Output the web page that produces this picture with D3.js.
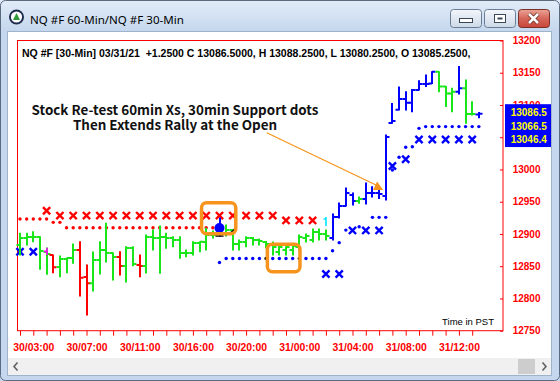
<!DOCTYPE html>
<html><head><meta charset="utf-8">
<script src="https://cdn.jsdelivr.net/npm/d3@7"></script>
<style>html,body{margin:0;padding:0;overflow:hidden;background:#fff}svg{display:block}</style>
</head><body>
<svg id="c" width="560" height="381"></svg>
<script>
// ---------- DATA ----------
const times = ["30/02:00","30/02:30","30/03:00","30/03:30","30/04:00","30/04:30","30/05:00","30/05:30","30/06:00","30/06:30","30/07:00","30/07:30","30/08:00","30/08:30","30/09:00","30/09:30","30/10:00","30/10:30","30/11:00","30/11:30","30/12:00","30/12:30","30/13:00","30/13:30","30/15:00","30/15:30","30/16:00","30/16:30","30/17:00","30/17:30","30/18:00","30/18:30","30/19:00","30/19:30","30/20:00","30/20:30","30/21:00","30/21:30","30/22:00","30/22:30","30/23:00","30/23:30","31/00:00","31/00:30","31/01:00","31/01:30","31/02:00","31/02:30","31/03:00","31/03:30","31/04:00","31/04:30","31/05:00","31/05:30","31/06:00","31/06:30","31/07:00","31/07:30","31/08:00","31/08:30","31/09:00","31/09:30","31/10:00","31/10:30","31/11:00","31/11:30","31/12:00","31/12:30","31/13:00","31/13:30"];
const xLabels = ["30/03:00","30/07:00","30/11:00","30/16:00","30/20:00","31/00:00","31/04:00","31/08:00","31/12:00"];
const yTicks = [12750,12800,12850,12900,12950,13000,13050,13100,13150,13200];

const opens  = [12883,12893.75,12895.25,12895.25,12872,12867.5,12848.75,12861.25,12862.75,12875,12833.25,12823.5,12859.5,12875,12870.5,12864.25,12850.25,12878.25,12852,12850.25,12895.25,12893.75,12895.25,12893.75,12890.5,12870.5,12870.5,12886,12887.5,12898.5,12906,12900,12906,12884.5,12887.5,12893.75,12890.5,12887.5,12884.5,12872,12875,12875,12879.75,12893.75,12890.5,12903,12900,12893.75,12926.25,12943.5,12960.5,12951,12954.25,12963.5,12963.5,12959,13072,13092.5,13109.25,13103.5,13123.25,13132.5,13133.5,13151.5,13128.5,13118,13120.5,13126,13086,13085.25];
const highs  = [12901,12901,12903.5,12895.75,12878.25,12867.5,12865.75,12862.75,12884.5,12888,12852,12872,12888,12916.5,12870.5,12872.5,12880,12880,12867.5,12898.5,12906,12912.25,12901,12895.75,12895.75,12875,12888,12888,12908.75,12904.5,12924.75,12914,12906,12890.5,12895.75,12894.5,12892.25,12888.25,12887.5,12882,12880.25,12883,12898.5,12900,12907.75,12907.75,12906,12931,12948,12971.25,12963.5,12957.25,12979,12973.25,12971.25,13053.5,13102.5,13127.9,13120.5,13124,13137.7,13146.5,13151.5,13151.5,13128.5,13126,13159.5,13138.75,13105,13088.25];
const lows   = [12867.5,12883,12888,12845.25,12837.5,12840,12833.75,12840,12854.5,12803.75,12774.25,12811.5,12838,12856.5,12828.5,12836.5,12825.5,12850.75,12833.75,12839.5,12875,12839,12877.75,12880.25,12862.25,12864.75,12867.5,12872.5,12875,12893.75,12896.75,12896.75,12875,12875,12880.25,12883,12883,12878.25,12867.5,12867.5,12867.5,12867.5,12875,12887.5,12887.5,12890.5,12890.5,12890.5,12924.75,12943.5,12945,12947.5,12946.5,12957.25,12955,12952.75,13071.5,13092.25,13092.25,13089.5,13123.25,13128.5,13133.5,13120.5,13097.5,13089.5,13117,13071.5,13084.5,13080.25];
const closes = [12893.75,12895.25,12895.25,12873.5,12869,12848.25,12861.25,12862.75,12875,12832.25,12823.5,12859.5,12875,12870.5,12864.25,12850.25,12878.25,12853.5,12850.25,12895.25,12893.75,12895.25,12893.75,12890.5,12870.5,12870.5,12886,12888,12898.5,12898.5,12909.25,12906,12884.5,12887.5,12893.75,12890.5,12889,12884.5,12879.75,12879.75,12879.75,12881.25,12895.25,12896.75,12903,12900,12896.75,12926.25,12943.5,12963.5,12951,12954.25,12963.5,12963.5,12962,13050.5,13075.25,13109.25,13103.5,13123.25,13132.5,13132.5,13151.5,13128.5,13118,13120.5,13126,13086,13086,13086.5];
// indicator colour state of each bar: g = green, r = red, b = blue
const barState = ["g","g","g","g","g","r","g","g","g","r","r","g","g","g","g","r","g","g","r","g","g","g","g","g","g","g","g","g","g","g","b","g","g","g","g","g","g","g","g","g","g","g","g","g","g","g","g","b","b","b","b","g","b","b","b","b","b","b","b","b","b","b","b","g","g","g","b","g","g","b"];

// 30-min support / resistance dots (one per bar, null = none)
const dots30 = [12923.25,12923.25,12923.25,12923.25,12923.25,12918,12918,12909.75,12909.75,12909.75,12909.75,12909.75,12909.75,12909.75,12909.75,12909.75,12909.75,12909.75,12909.75,12909.75,12909.75,12909.75,12909.75,12909.75,12909.75,12909.75,12909.75,12909.75,12909.75,12909.75,12855.75,12862,12862,12862,12862,12862,12862,12862,12862,12862,12862,12862,12862,12862,12862,12862,12862,12874,12886.5,12906,null,12911.25,null,12925.75,12925.75,12925.75,12999.25,13019,13034.5,13035.25,13063.75,13066.5,13066.5,13066.5,13066.5,13066.5,13066.5,13066.5,13066.5,13066.5];
const dots30State = ["r","r","r","r","r","r","r","r","r","r","r","r","r","r","r","r","r","r","r","r","r","r","r","r","r","r","r","r","r","r","b","b","b","b","b","b","b","k","b","b","b","b","k","b","b","b","b","b","b","b","b","b","b","b","b","b","b","b","b","b","b","b","b","b","b","b","b","b","b","b"];

// 60-min Xs
const x60Bars  = ["30/02:00","30/03:00","30/04:00","30/05:00","30/06:00","30/07:00","30/08:00","30/09:00","30/10:00","30/11:00","30/12:00","30/13:00","30/15:00","30/16:00","30/17:00","30/18:00","30/19:00","30/20:00","30/21:00","30/22:00","30/23:00","31/00:00","31/01:00","31/02:00","31/03:00","31/04:00","31/05:00","31/06:00","31/07:00","31/08:00","31/09:00","31/10:00","31/11:00","31/12:00","31/13:00"];
const x60Value = [12872.5,12872.5,12936,12928.5,12928.5,12928.5,12928.5,12928.5,12928.5,12928.5,12928.5,12928.5,12928.5,12928.5,12928.5,12928.5,12928.5,12928.5,12928.5,12928.5,12921,12921,12921,12838,12838,12905.5,12905.5,12905.5,13005.5,13015.75,13046.4,13046.4,13046.4,13046.4,13046.4];
const x60State = ["b","b","r","r","r","r","r","r","r","r","r","r","r","r","r","r","r","r","r","r","r","r","r","b","b","b","b","b","b","b","b","b","b","b","b"];

const lastValues = [13086.5, 13066.5, 13046.4];
const headerText = "NQ #F [30-Min] 03/31/21  +1.2500 C 13086.5000, H 13088.2500, L 13080.2500, O 13085.2500,";
const titleText = "NQ #F 60-Min/NQ #F 30-Min";
const noteLines = ["Stock Re-test 60min Xs, 30min Support dots", "Then Extends Rally at the Open"];
// annotation geometry in data units (fractional bar index, price)
const noteBoxes = [{i0:27.3,i1:32.45,top:12948.5,bot:12900.4},{i0:37.2,i1:42.1,top:12884,bot:12841.5}];
const noteArrow = {i0:37.1,v0:13057,i1:53.85,v1:12974.4};
const retestBar = "30/18:00", retestValue = 12909.25;
const magentaMark = {bar:"30/04:00", hi:12878.7, lo:12867.4, t:12873};
const cyanMark = {bar:"31/02:00", hi:12926.3, lo:12912.4};

// ---------- DRAW ----------
const svg = d3.select("#c");
const colors = {g:"#19e619", r:"#ff0000", b:"#0000ff", k:"#000000"};
const orange = "#f7941d";

// window chrome
const defs = svg.append("defs");
const tg = defs.append("linearGradient").attr("id","tg").attr("x1",0).attr("y1",0).attr("x2",0).attr("y2",1);
tg.append("stop").attr("offset","0").attr("stop-color","#e2ecf8");
tg.append("stop").attr("offset","1").attr("stop-color","#c3d6ed");
const bg1 = defs.append("linearGradient").attr("id","bg1").attr("x1",0).attr("y1",0).attr("x2",0).attr("y2",1);
bg1.append("stop").attr("offset","0").attr("stop-color","#f3f6fb");
bg1.append("stop").attr("offset","1").attr("stop-color","#cdd9e8");
const cg = defs.append("linearGradient").attr("id","cg").attr("x1",0).attr("y1",0).attr("x2",0).attr("y2",1);
cg.append("stop").attr("offset","0").attr("stop-color","#e9a597");
cg.append("stop").attr("offset","0.5").attr("stop-color","#d7665a");
cg.append("stop").attr("offset","1").attr("stop-color","#c8463a");

svg.append("rect").attr("x",0).attr("y",0).attr("width",560).attr("height",381).attr("fill","#c4d7ee");
svg.append("rect").attr("x",0).attr("y",0).attr("width",560).attr("height",33).attr("fill","url(#tg)");
// content area
svg.append("rect").attr("x",8).attr("y",32).attr("width",543).attr("height",343).attr("fill","#ffffff");
// title icon
const ic = svg.append("g").attr("transform","translate(16.5,17)");
ic.append("circle").attr("r",7.5).attr("fill","#1d2b4d");
ic.append("circle").attr("r",5.6).attr("fill","#ffffff");
ic.append("path").attr("d","M0,-4 L3.5,3 L-3.5,3 Z").attr("fill","#2e9a3a");
const tt = svg.append("text").attr("x",30).attr("y",24).attr("font-family","'Noto Sans', 'Open Sans', sans-serif")
  .attr("font-size",12).attr("fill","#000").text(titleText);
// title buttons
function btn(x0, fill, stroke){
  svg.append("rect").attr("x",x0+0.5).attr("y",9.5).attr("width",31).attr("height",18).attr("rx",3)
    .attr("fill",fill).attr("stroke",stroke);
}
btn(450,"url(#bg1)","#6b7d94"); btn(484,"url(#bg1)","#6b7d94"); btn(518,"url(#cg)","#7a3028");
svg.append("rect").attr("x",459.5).attr("y",18.5).attr("width",13).attr("height",4).attr("fill","#ffffff").attr("stroke","#3b4656");
svg.append("rect").attr("x",494.5).attr("y",14.5).attr("width",11).attr("height",8).attr("fill","#ffffff").attr("stroke","#3b4656");
svg.append("rect").attr("x",497.5).attr("y",17.5).attr("width",5).attr("height",2).attr("fill","#3b4656");
svg.append("path").attr("d","M529,14 L538,23 M538,14 L529,23").attr("stroke","#6b2a24").attr("stroke-width",4.2);
svg.append("path").attr("d","M529,14 L538,23 M538,14 L529,23").attr("stroke","#ffffff").attr("stroke-width",2.6);

// scales
const x = d3.scalePoint().domain(times).range([20, 478.85]);
const xAt = f => x(times[0]) + f * x.step();
const y = d3.scaleLinear().domain([12750, 13200]).range([330.7, 40.5]);

// frame
svg.append("rect").attr("x",17.5).attr("y",y(13200)).attr("width",485.5).attr("height",y(12750)-y(13200))
  .attr("fill","none").attr("stroke","#ff0000").attr("stroke-width",1);

// header
const ht = svg.append("text").attr("x",22).attr("y",57).attr("font-family","'Liberation Sans', Arial, sans-serif")
  .attr("font-weight","bold").attr("font-size",11).attr("fill","#000").style("white-space","pre").text(headerText);
function fit(t, w){ const l = t.node().getComputedTextLength(); t.attr("font-size", (+t.attr("font-size"))*w/l); }
fit(ht, 449);
fit(tt, 154);

// 30-min dots
const dotData = dots30.map((v,i)=>({t:times[i], v, s:dots30State[i]})).filter(d=>d.v!==null);
svg.append("g").selectAll("circle").data(dotData).join("circle")
  .attr("cx",d=>x(d.t)).attr("cy",d=>y(d.v)).attr("r",1.7).attr("fill",d=>colors[d.s]);

// 60-min Xs
const xsData = x60Bars.map((t,i)=>({t, v:x60Value[i], s:x60State[i]}));
svg.append("g").selectAll("path").data(xsData).join("path")
  .attr("d",d=>{const cx=x(d.t), cy=y(d.v), h=3.6; return `M${cx-h},${cy-h}L${cx+h},${cy+h}M${cx+h},${cy-h}L${cx-h},${cy+h}`;})
  .attr("stroke",d=>colors[d.s]).attr("stroke-width",2.4).attr("fill","none");

// OHLC bars
const bars = times.map((t,i)=>({t,o:opens[i],h:highs[i],l:lows[i],c:closes[i],s:barState[i]}));
svg.append("g").selectAll("path").data(bars).join("path")
  .attr("d",d=>{const cx=Math.round(x(d.t)); return `M${cx},${y(d.h)-0.5}V${y(d.l)+0.5}M${cx-3.5},${y(d.o)}H${cx}M${cx},${y(d.c)}H${cx+3.5}`;})
  .attr("stroke",d=>colors[d.s]).attr("stroke-width",2).attr("fill","none");

// markers
const mx = Math.round(x(magentaMark.bar));
svg.append("path").attr("d",`M${mx},${y(magentaMark.hi)}V${y(magentaMark.lo)}M${mx-3},${y(magentaMark.t)}H${mx}`)
  .attr("stroke","#ff00ff").attr("stroke-width",1.6).attr("fill","none");
const cx2 = Math.round(x(cyanMark.bar));
svg.append("path").attr("d",`M${cx2},${y(cyanMark.hi)}V${y(cyanMark.lo)}M${cx2-2.5},${y(cyanMark.hi)+2}H${cx2}`)
  .attr("stroke","#00e5ff").attr("stroke-width",1.6).attr("fill","none");
const rx = x(retestBar), ry = y(retestValue);
svg.append("path").attr("d",`M${rx},${ry}V${ry+8}M${rx-4},${ry+8}H${rx+4}`).attr("stroke","#000").attr("stroke-width",1.4).attr("fill","none");
svg.append("path").attr("d",`M${rx+6},${ry+7} Q${rx+11},${ry+6} ${rx+16},${ry}`).attr("stroke","#000").attr("stroke-width",1.2).attr("fill","none");
svg.append("circle").attr("cx",rx).attr("cy",ry).attr("r",5).attr("fill","#0000ff");

// annotation boxes
svg.append("g").selectAll("rect").data(noteBoxes).join("rect")
  .attr("x",d=>xAt(d.i0)).attr("y",d=>y(d.top)).attr("width",d=>xAt(d.i1)-xAt(d.i0)).attr("height",d=>y(d.bot)-y(d.top))
  .attr("rx",5).attr("fill","none").attr("stroke",orange).attr("stroke-width",3.5);

// annotation arrow
const ax0 = xAt(noteArrow.i0), ay0 = y(noteArrow.v0), ax1 = xAt(noteArrow.i1), ay1 = y(noteArrow.v1);
svg.append("line").attr("x1",ax0).attr("y1",ay0).attr("x2",ax1).attr("y2",ay1).attr("stroke",orange).attr("stroke-width",1.2);
svg.append("path").attr("d",`M${ax1-5},${ay1+4}L${ax1+5},${ay1+4}L${ax1-1},${ay1-4.5}Z`).attr("fill",orange);

// annotation text (one text block, two lines)
const note = svg.append("text").attr("text-anchor","middle")
  .attr("font-family","'Noto Sans CJK JP','Noto Sans',sans-serif").attr("font-weight","bold").attr("font-size",15).attr("fill","#111");
const l1 = note.append("tspan").attr("x",175).attr("y",114.5).text(noteLines[0]);
note.append("tspan").attr("x",175).attr("y",129.5).text(noteLines[1]);
{ const w = l1.node().getComputedTextLength(); note.attr("font-size", 15*287/w); }

// time note
svg.append("text").attr("x",494).attr("y",325).attr("text-anchor","end").attr("font-family","'Liberation Sans', Arial, sans-serif")
  .attr("font-size",9.5).attr("fill","#000").text("Time in PST");

// axes
const yAxis = d3.axisRight(y).tickValues(yTicks).tickSizeInner(-3).tickSizeOuter(0).tickPadding(9.7).tickFormat(d3.format("d"));
const gy = svg.append("g").attr("transform","translate(503,0)").call(yAxis);
gy.select(".domain").remove();
gy.selectAll("line").attr("stroke","#ff0000");
gy.selectAll("text").attr("fill","#ff0000").attr("font-family","'Liberation Sans', Arial, sans-serif").attr("font-weight","bold").attr("font-size",10);

const hourTicks = times.filter(t=>t.endsWith(":00"));
const xAxis = d3.axisBottom(x).tickValues(hourTicks).tickSizeInner(5).tickSizeOuter(0).tickPadding(7.5)
  .tickFormat(t=>xLabels.includes(t)?t:"");
const gx = svg.append("g").attr("transform",`translate(0,${y(12750)})`).call(xAxis);
gx.select(".domain").remove();
gx.selectAll("line").attr("stroke","#ff0000");
gx.selectAll("text").attr("fill","#ff0000").attr("font-family","'Liberation Sans', Arial, sans-serif").attr("font-weight","bold").attr("font-size",10.4);

// last value box
const lv = svg.append("g");
lv.append("rect").attr("x",505).attr("y",y(lastValues[0])-9.5).attr("width",50).attr("height",y(lastValues[2])-y(lastValues[0])+17).attr("fill","#0000ff");
lv.selectAll("text").data(lastValues).join("text").attr("x",510.7).attr("y",(d,i)=>y(d)+(i===0?-1.4:0)).attr("dy","0.35em")
  .attr("fill","#ffff00").attr("font-family","'Liberation Sans', Arial, sans-serif").attr("font-weight","bold").attr("font-size",10)
  .text(d=>d3.format(".1f")(d));

// scrollbar
svg.append("rect").attr("x",8).attr("y",358).attr("width",543).attr("height",17).attr("fill","#f0f0f0");
svg.append("rect").attr("x",518).attr("y",359).attr("width",17).attr("height",15).attr("fill","#cdcdcd");
svg.append("path").attr("d","M17.5,362.5 L14,366.5 L17.5,370.5").attr("stroke","#606060").attr("stroke-width",1.6).attr("fill","none");
svg.append("path").attr("d","M542.5,362.5 L546,366.5 L542.5,370.5").attr("stroke","#606060").attr("stroke-width",1.6).attr("fill","none");

// right, left and bottom window border drawn over content
svg.append("rect").attr("x",551).attr("y",31).attr("width",9).attr("height",350).attr("fill","#c4d7ee");
svg.append("rect").attr("x",0).attr("y",375).attr("width",560).attr("height",6).attr("fill","#c4d7ee");
svg.append("rect").attr("x",0).attr("y",31).attr("width",8).attr("height",350).attr("fill","#c4d7ee");
svg.append("rect").attr("x",7.5).attr("y",31.5).attr("width",544).attr("height",344).attr("fill","none").attr("stroke","#9fb3ca");
svg.append("rect").attr("x",0.5).attr("y",0.5).attr("width",559).attr("height",380).attr("rx",5).attr("fill","none").attr("stroke","#5a6b80");
</script>
</body></html>
